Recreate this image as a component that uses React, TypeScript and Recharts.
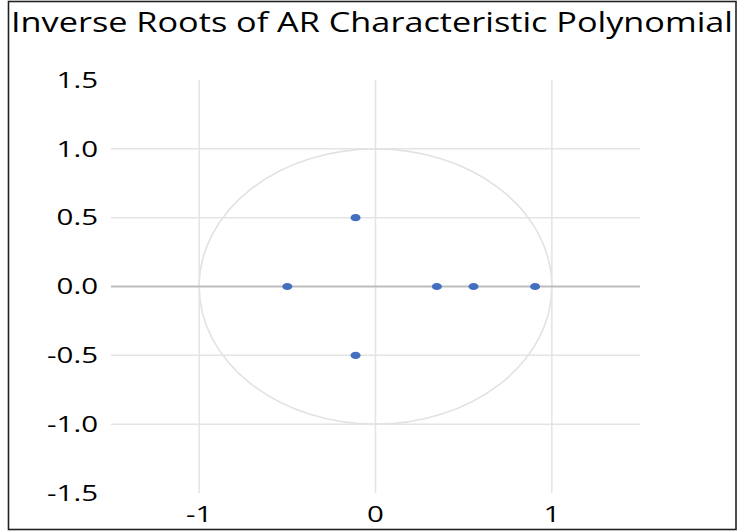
import React from 'react';
import { ScatterChart, Scatter, XAxis, YAxis, ReferenceLine, ReferenceArea } from 'recharts';

const rootRe = [-0.5, -0.113, -0.113, 0.348, 0.556, 0.905];
const rootIm = [0, 0.5, -0.5, 0, 0, 0];
const xTicks = [-1, 0, 1];
const yTicks = [-1.5, -1, -0.5, 0, 0.5, 1, 1.5];
const xGrid = [-1, 0, 1];
const yGrid = [-1, -0.5, 0.5, 1];
const unitBox = { x1: -1, x2: 1, y1: -1, y2: 1 };
const title = 'Inverse Roots of AR Characteristic Polynomial';

const data = rootRe.map((x, i) => ({ x, y: rootIm[i] }));

const FONT = '"Open Sans", sans-serif';
const STRETCH = 1.34;

const YTick = (props: any) => {
  const { x, y, payload } = props;
  return (
    <g transform={`translate(${x},${y})`}>
      <text transform={`scale(${STRETCH},1)`} textAnchor="end" dy="0.355em" fontSize={22} fontFamily={FONT} fill="#000">
        {Number(payload.value).toFixed(1)}
      </text>
    </g>
  );
};

const XTick = (props: any) => {
  const { x, y, payload } = props;
  return (
    <g transform={`translate(${x},${y})`}>
      <text transform={`scale(${STRETCH},1)`} textAnchor="middle" dy="0.71em" fontSize={22} fontFamily={FONT} fill="#000">
        {String(payload.value)}
      </text>
    </g>
  );
};

const Dot = (props: any) => {
  const { cx, cy } = props;
  return <ellipse cx={cx} cy={cy} rx={5} ry={3.6} fill="#4270BE" />;
};

const CircleShape = (props: any) => {
  const { x, y, width, height } = props;
  return (
    <ellipse
      cx={x + width / 2}
      cy={y + height / 2}
      rx={Math.abs(width) / 2}
      ry={Math.abs(height) / 2}
      fill="none"
      stroke="#e2e2e2"
      strokeWidth={1.6}
    />
  );
};

export default function App() {
  return (
    <div style={{ position: 'absolute', left: 0, top: 0, width: 737, height: 532, background: '#fff' }}>
      <ScatterChart width={737} height={532} margin={{ top: 80, right: 97, bottom: 9, left: 0 }}>
        <XAxis
          dataKey="x"
          type="number"
          domain={[-1.5, 1.5]}
          ticks={xTicks}
          axisLine={false}
          tickLine={false}
          tickSize={0}
          tickMargin={13}
          height={30}
          tick={<XTick />}
          interval={0}
        />
        <YAxis
          dataKey="y"
          type="number"
          domain={[-1.5, 1.5]}
          ticks={yTicks}
          axisLine={false}
          tickLine={false}
          tickSize={0}
          tickMargin={13}
          width={111}
          tick={<YTick />}
          interval={0}
        />
        {yGrid.map((v) => (
          <ReferenceLine key={'h' + v} y={v} stroke="#e4e4e4" strokeWidth={1.5} />
        ))}
        {xGrid.map((v) => (
          <ReferenceLine key={'v' + v} x={v} stroke="#e4e4e4" strokeWidth={1.5} />
        ))}
        <ReferenceArea
          x1={unitBox.x1}
          x2={unitBox.x2}
          y1={unitBox.y1}
          y2={unitBox.y2}
          shape={(p: any) => <CircleShape {...p} />}
        />
        <ReferenceLine y={0} stroke="#bdbdbd" strokeWidth={1.8} />
        <Scatter data={data} shape={<Dot />} isAnimationActive={false} />
      </ScatterChart>
      <svg width={737} height={532} style={{ position: 'absolute', left: 0, top: 0, pointerEvents: 'none' }}>
        <rect x={8.5} y={1.5} width={727.5} height={528} fill="none" stroke="#222" strokeWidth={1.6} />
        <text
          x={11}
          y={32}
          fontSize={27}
          fontFamily={FONT}
          fill="#000"
          textLength={722}
          lengthAdjust="spacingAndGlyphs"
        >
          {title}
        </text>
      </svg>
    </div>
  );
}
